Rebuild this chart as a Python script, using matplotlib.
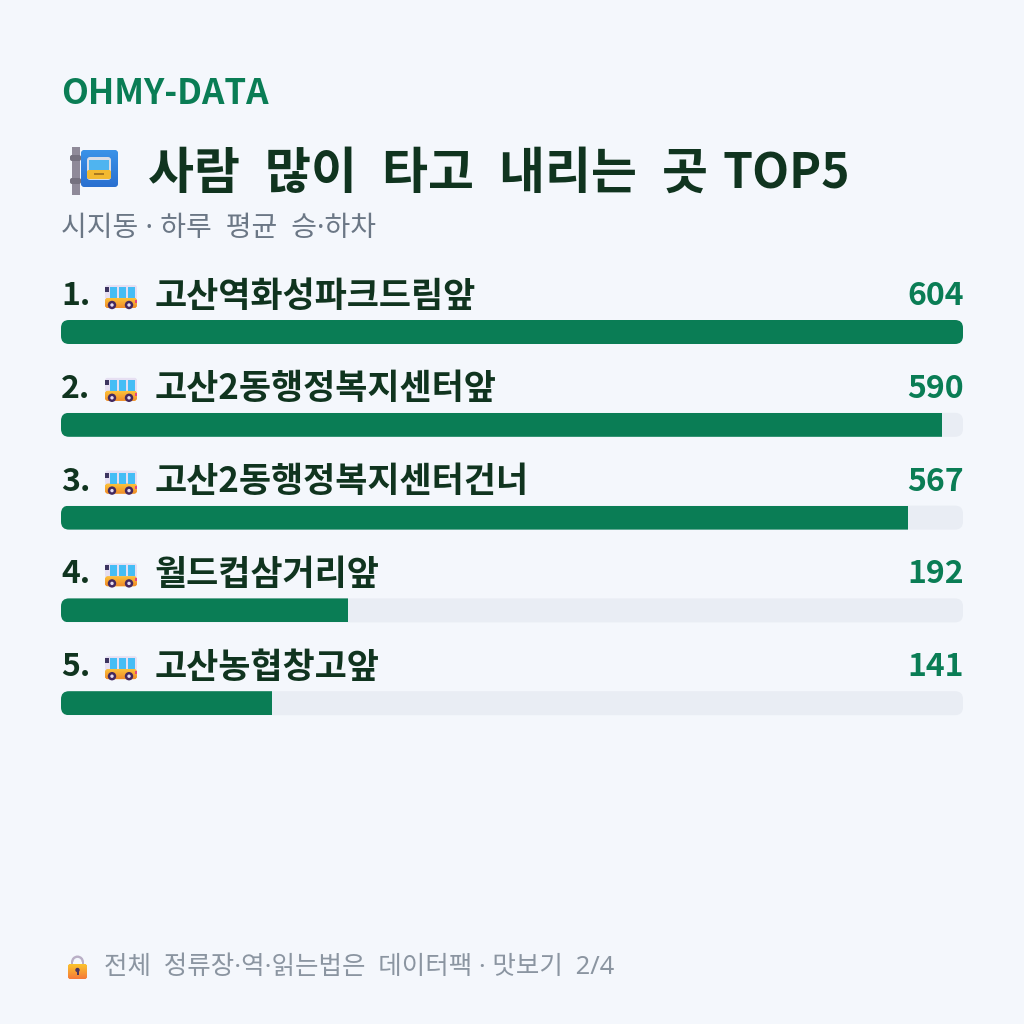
import matplotlib.pyplot as plt
import numpy as np
from matplotlib.colors import LinearSegmentedColormap
from matplotlib.patches import Circle, FancyBboxPatch, Rectangle, Wedge

plt.rcParams["font.family"] = ["Noto Sans CJK KR", "DejaVu Sans"]
# regular text takes its latin glyphs and narrow dot from Noto Sans
BODY_FONT = ["Noto Sans", "Noto Sans CJK KR"]

BG = "#f4f7fc"
GREEN = "#0a7d55"
DARK = "#10341f"
GRAY = "#6b7785"
TRACK = "#e9edf4"

stops = ["고산역화성파크드림앞", "고산2동행정복지센터앞", "고산2동행정복지센터건너", "월드컵삼거리앞", "고산농협창고앞"]
riders = [604, 590, 567, 192, 141]

BAR_LEFT = 61
BAR_WIDTH = 902
BAR_HEIGHT = 24
ROW_STEP = 92.8


def px(size):
    # css pixels to points at dpi 100
    return size * 0.72


def rounded(ax, x, y, w, h, r, **kw):
    patch = FancyBboxPatch((x + r, y + r), w - 2 * r, h - 2 * r,
                           boxstyle="round,pad=%f,rounding_size=%f" % (r, r), lw=0, **kw)
    ax.add_patch(patch)
    return patch


def gradient(ax, patch, x, y, w, h, top, bottom):
    # vertical colour ramp clipped to a patch
    cmap = LinearSegmentedColormap.from_list("ramp", [top, bottom])
    im = ax.imshow(np.linspace(0, 1, 32).reshape(-1, 1), cmap=cmap, aspect="auto",
                   extent=(x, x + w, y + h, y), zorder=patch.get_zorder(), interpolation="bilinear")
    im.set_clip_path(patch)


def draw_bus(ax, x, y):
    # small side-view bus, x,y is the top left corner
    rounded(ax, x, y, 32, 15, 2.5, color="#e6dff2")
    body = rounded(ax, x, y + 13, 32, 10, 3, color="#f5a82c")
    gradient(ax, body, x, y + 13, 32, 10, "#fcc23a", "#f08a2a")
    for wx in (5, 14, 23):
        ax.add_patch(Rectangle((x + wx, y + 2), 7, 11, color="#45bdf5", lw=0, zorder=2))
    ax.add_patch(Rectangle((x, y + 2), 3.5, 5, color="#3d3560", lw=0, zorder=2))
    ax.add_patch(Rectangle((x + 30, y + 15), 2, 3, color="#e8457a", lw=0, zorder=2))
    for wx in (7, 24):
        ax.add_patch(Circle((x + wx, y + 20), 4.2, color="#43285f", lw=0, zorder=3))
        ax.add_patch(Circle((x + wx, y + 20), 1.7, color="#e6ddf0", lw=0, zorder=3))


def draw_stop_sign(ax, x, y):
    # post with a blue sign and a front-view bus on it
    ax.add_patch(Rectangle((x + 2, y), 8, 48, color="#8f8a99", lw=0))
    rounded(ax, x, y + 8, 11, 6, 2, color="#75717f")
    rounded(ax, x, y + 31, 11, 6, 2, color="#75717f")
    sign = rounded(ax, x + 11, y + 3, 37, 37, 4, color="#2f80dc")
    gradient(ax, sign, x + 11, y + 3, 37, 37, "#3a92e8", "#2a70d0")
    rounded(ax, x + 17, y + 10, 24, 23, 3, color="#d9dce6", zorder=2)
    ax.add_patch(Rectangle((x + 19, y + 13), 20, 10, color="#4fb4f0", lw=0, zorder=3))
    rounded(ax, x + 17, y + 23, 24, 9, 2, color="#f2b92f", zorder=3)
    ax.add_patch(Rectangle((x + 24, y + 26), 10, 2, color="#a9791f", lw=0, zorder=4))


def draw_lock(ax, x, y):
    ax.add_patch(Wedge((x + 9.5, y + 7), 6.5, 180, 360, width=2.4, color="#b9afc6", lw=0))
    ax.add_patch(Rectangle((x + 3, y + 7), 2.4, 4, color="#b9afc6", lw=0))
    ax.add_patch(Rectangle((x + 13.6, y + 7), 2.4, 4, color="#b9afc6", lw=0))
    body = rounded(ax, x, y + 9, 19, 15, 2.5, color="#f9a13a")
    gradient(ax, body, x, y + 9, 19, 15, "#fbc42c", "#f5793a")
    ax.add_patch(Circle((x + 9.5, y + 15), 2.2, color="#4a3560", lw=0, zorder=3))
    ax.add_patch(Rectangle((x + 8.5, y + 15), 2, 5, color="#4a3560", lw=0, zorder=3))


fig = plt.figure(figsize=(10.24, 10.24), dpi=100, facecolor=BG)
ax = fig.add_axes([0, 0, 1, 1])
ax.axis("off")

ax.text(61, 93, "OHMY-DATA", fontsize=px(35), fontweight="bold", color=GREEN, va="center")
draw_stop_sign(ax, 70, 147)
# en spaces keep the word gaps as wide as the layout needs
ax.text(148, 174, "사람\u2002많이\u2002타고\u2002내리는\u2002곳", fontsize=px(50), fontweight="bold",
        color=DARK, va="center")
ax.text(722, 174, "TOP5", fontsize=px(48), fontweight="bold", color=DARK, va="center")
ax.text(61, 229, "시지동 · 하루\u2002평균\u2002승·하차", fontsize=px(28), color=GRAY, va="center", family=BODY_FONT)

for i, (name, val) in enumerate(zip(stops, riders)):
    top = 320 + i * ROW_STEP
    ax.text(61, top - 24, "%d." % (i + 1), fontsize=px(32), fontweight="bold", color=DARK, va="center")
    draw_bus(ax, 105, top - 35)
    ax.text(155, top - 24, name, fontsize=px(35), fontweight="bold", color=DARK, va="center")
    ax.text(964, top - 24, str(val), fontsize=px(32), fontweight="bold", color=GREEN, va="center", ha="right")

    track = rounded(ax, BAR_LEFT, top, BAR_WIDTH, BAR_HEIGHT, 8, color=TRACK)
    fill = Rectangle((BAR_LEFT, top), BAR_WIDTH * val / max(riders), BAR_HEIGHT, color=GREEN, lw=0)
    ax.add_patch(fill)
    fill.set_clip_path(track)

draw_lock(ax, 68, 955)
ax.text(104, 968, "전체\u2002정류장·역·읽는법은\u2002데이터팩 · 맛보기\u20022/4", fontsize=px(25.5), color="#8b95a1",
        va="center", family=BODY_FONT)

ax.set_xlim(0, 1024)
ax.set_ylim(1024, 0)

fig.savefig("out.png", dpi=100, facecolor=BG)
